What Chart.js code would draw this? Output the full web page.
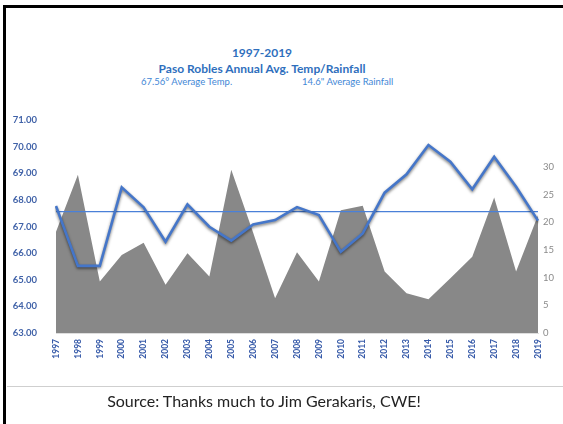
<!DOCTYPE html>
<html>
<head>
<meta charset="utf-8">
<script src="https://cdn.jsdelivr.net/npm/chart.js@4"></script>
<style>
  body { margin: 0; background: #fff; font-family: Lato, "Liberation Sans", sans-serif; }
  #wrap { position: relative; width: 563px; height: 424px; overflow: hidden; }
  #frame { position: absolute; left: 3px; top: 5px; width: 570px; height: 430px;
           border-top: 3px solid #000; border-left: 3px solid #000; }
  #rule { position: absolute; left: 7px; right: 0; top: 386px; height: 1px; background: #cfcfcf; }
  .t { position: absolute; white-space: nowrap; }
  #t1, #t2 { left: 0; width: 524px; text-align: center; font-weight: bold; color: #2f6fbd; font-size: 12px; }
  #t1 { top: 45px; }
  #t2 { top: 61px; }
  .sub { top: 76px; font-size: 9.5px; color: #3f87d6; }
  #source { top: 391px; left: 0; width: 528px; text-align: center; font-size: 16px; color: #222; }
  canvas { position: absolute; left: 0; top: 0; }
</style>
</head>
<body>
<div id="wrap">
  <div id="frame"></div>
  <div class="t" id="t1">1997-2019</div>
  <div class="t" id="t2">Paso Robles Annual Avg. Temp/Rainfall</div>
  <div class="t sub" style="left:141px">67.56° Average Temp.</div>
  <div class="t sub" style="left:302px">14.6" Average Rainfall</div>
  <canvas id="pasoChart" width="563" height="424"></canvas>
  <div id="rule"></div>
  <div class="t" id="source">Source: Thanks much to Jim Gerakaris, CWE!</div>
</div>
<script>
const years = ['1997', '1998', '1999', '2000', '2001', '2002', '2003', '2004', '2005', '2006', '2007', '2008',
  '2009', '2010', '2011', '2012', '2013', '2014', '2015', '2016', '2017', '2018', '2019'];

// temperatura media anual (eje izquierdo)
const avgTempValues = [67.77, 65.52, 65.52, 68.47, 67.72, 66.43, 67.83, 66.99, 66.47, 67.08, 67.24, 67.73,
  67.43, 66.05, 66.74, 68.27, 68.96, 70.06, 69.43, 68.40, 69.62, 68.49, 67.22];

// lluvia anual en pulgadas (eje derecho)
const rainfallValues = [18.3, 28.6, 9.3, 14.1, 16.3, 8.7, 14.4, 10.2, 29.5, 18.1, 6.3, 14.6,
  9.3, 22.2, 23.0, 11.1, 7.2, 6.1, 9.9, 13.8, 24.5, 11.1, 21.3];

const longTermTemp = 67.56;
const tempTicks = [63, 64, 65, 66, 67, 68, 69, 70, 71];
const rainTicks = [0, 5, 10, 15, 20, 25, 30];

// sombra de la linea de temperatura (efecto de Excel)
const lineShadow = {
  id: 'lineShadow',
  beforeDatasetDraw(chart, args) {
    if (args.index !== 0) return;
    const c = chart.ctx;
    c.save();
    c.shadowColor = 'rgba(0,0,0,0.55)';
    c.shadowBlur = 3;
    c.shadowOffsetY = 1.5;
  },
  afterDatasetDraw(chart, args) {
    if (args.index !== 0) return;
    chart.ctx.restore();
  }
};

const ctx = document.getElementById('pasoChart').getContext('2d');
const pasoChart = new Chart(ctx, {
  type: 'line',
  data: {
    labels: years,
    datasets: [
      {
        label: 'Avg. Temp',
        data: avgTempValues,
        yAxisID: 'y',
        borderColor: '#4576c9',
        borderWidth: 2.6,
        pointRadius: 0,
        tension: 0,
        fill: false,
        order: 0
      },
      {
        label: 'Average Temp.',
        data: [{ x: years[0], y: longTermTemp }, { x: years[years.length - 1], y: longTermTemp }],
        yAxisID: 'y',
        borderColor: '#4a80d8',
        borderWidth: 1.4,
        pointRadius: 0,
        fill: false,
        order: 1
      },
      {
        label: 'Rainfall',
        data: rainfallValues,
        yAxisID: 'y1',
        borderWidth: 0,
        borderColor: 'rgba(0,0,0,0)',
        backgroundColor: '#888888',
        pointRadius: 0,
        tension: 0,
        fill: 'origin',
        order: 2
      }
    ]
  },
  options: {
    responsive: false,
    animation: false,
    devicePixelRatio: 1,
    layout: { padding: { left: 0, right: 0, top: 120, bottom: 0 } },
    plugins: {
      legend: { display: false },
      tooltip: { enabled: false }
    },
    scales: {
      x: {
        grid: { display: false, drawTicks: false },
        border: { display: true, color: '#dedede' },
        afterFit(scale) { scale.height = 91; },
        ticks: {
          minRotation: 90,
          maxRotation: 90,
          autoSkip: false,
          padding: 6,
          color: '#3559a8',
          font: { family: 'Lato', size: 8.5, weight: 'bold' }
        }
      },
      y: {
        position: 'left',
        min: 63,
        max: 71,
        grid: { display: false, drawTicks: false },
        border: { display: false },
        afterFit(scale) { scale.width = 56; },
        afterBuildTicks(scale) { scale.ticks = tempTicks.map(v => ({ value: v })); },
        ticks: {
          padding: 19,
          color: '#4062a8',
          font: { family: 'Lato', size: 9.5, weight: 'bold' },
          callback: v => v.toFixed(2)
        }
      },
      y1: {
        position: 'right',
        min: 0,
        max: 38.5,
        grid: { display: false, drawTicks: false },
        border: { display: false },
        afterFit(scale) { scale.width = 25; },
        afterBuildTicks(scale) { scale.ticks = rainTicks.map(v => ({ value: v })); },
        ticks: {
          padding: 5,
          color: '#8a8a8a',
          font: { family: 'Lato', size: 9.5 }
        }
      }
    }
  },
  plugins: [lineShadow]
});
</script>
</body>
</html>
